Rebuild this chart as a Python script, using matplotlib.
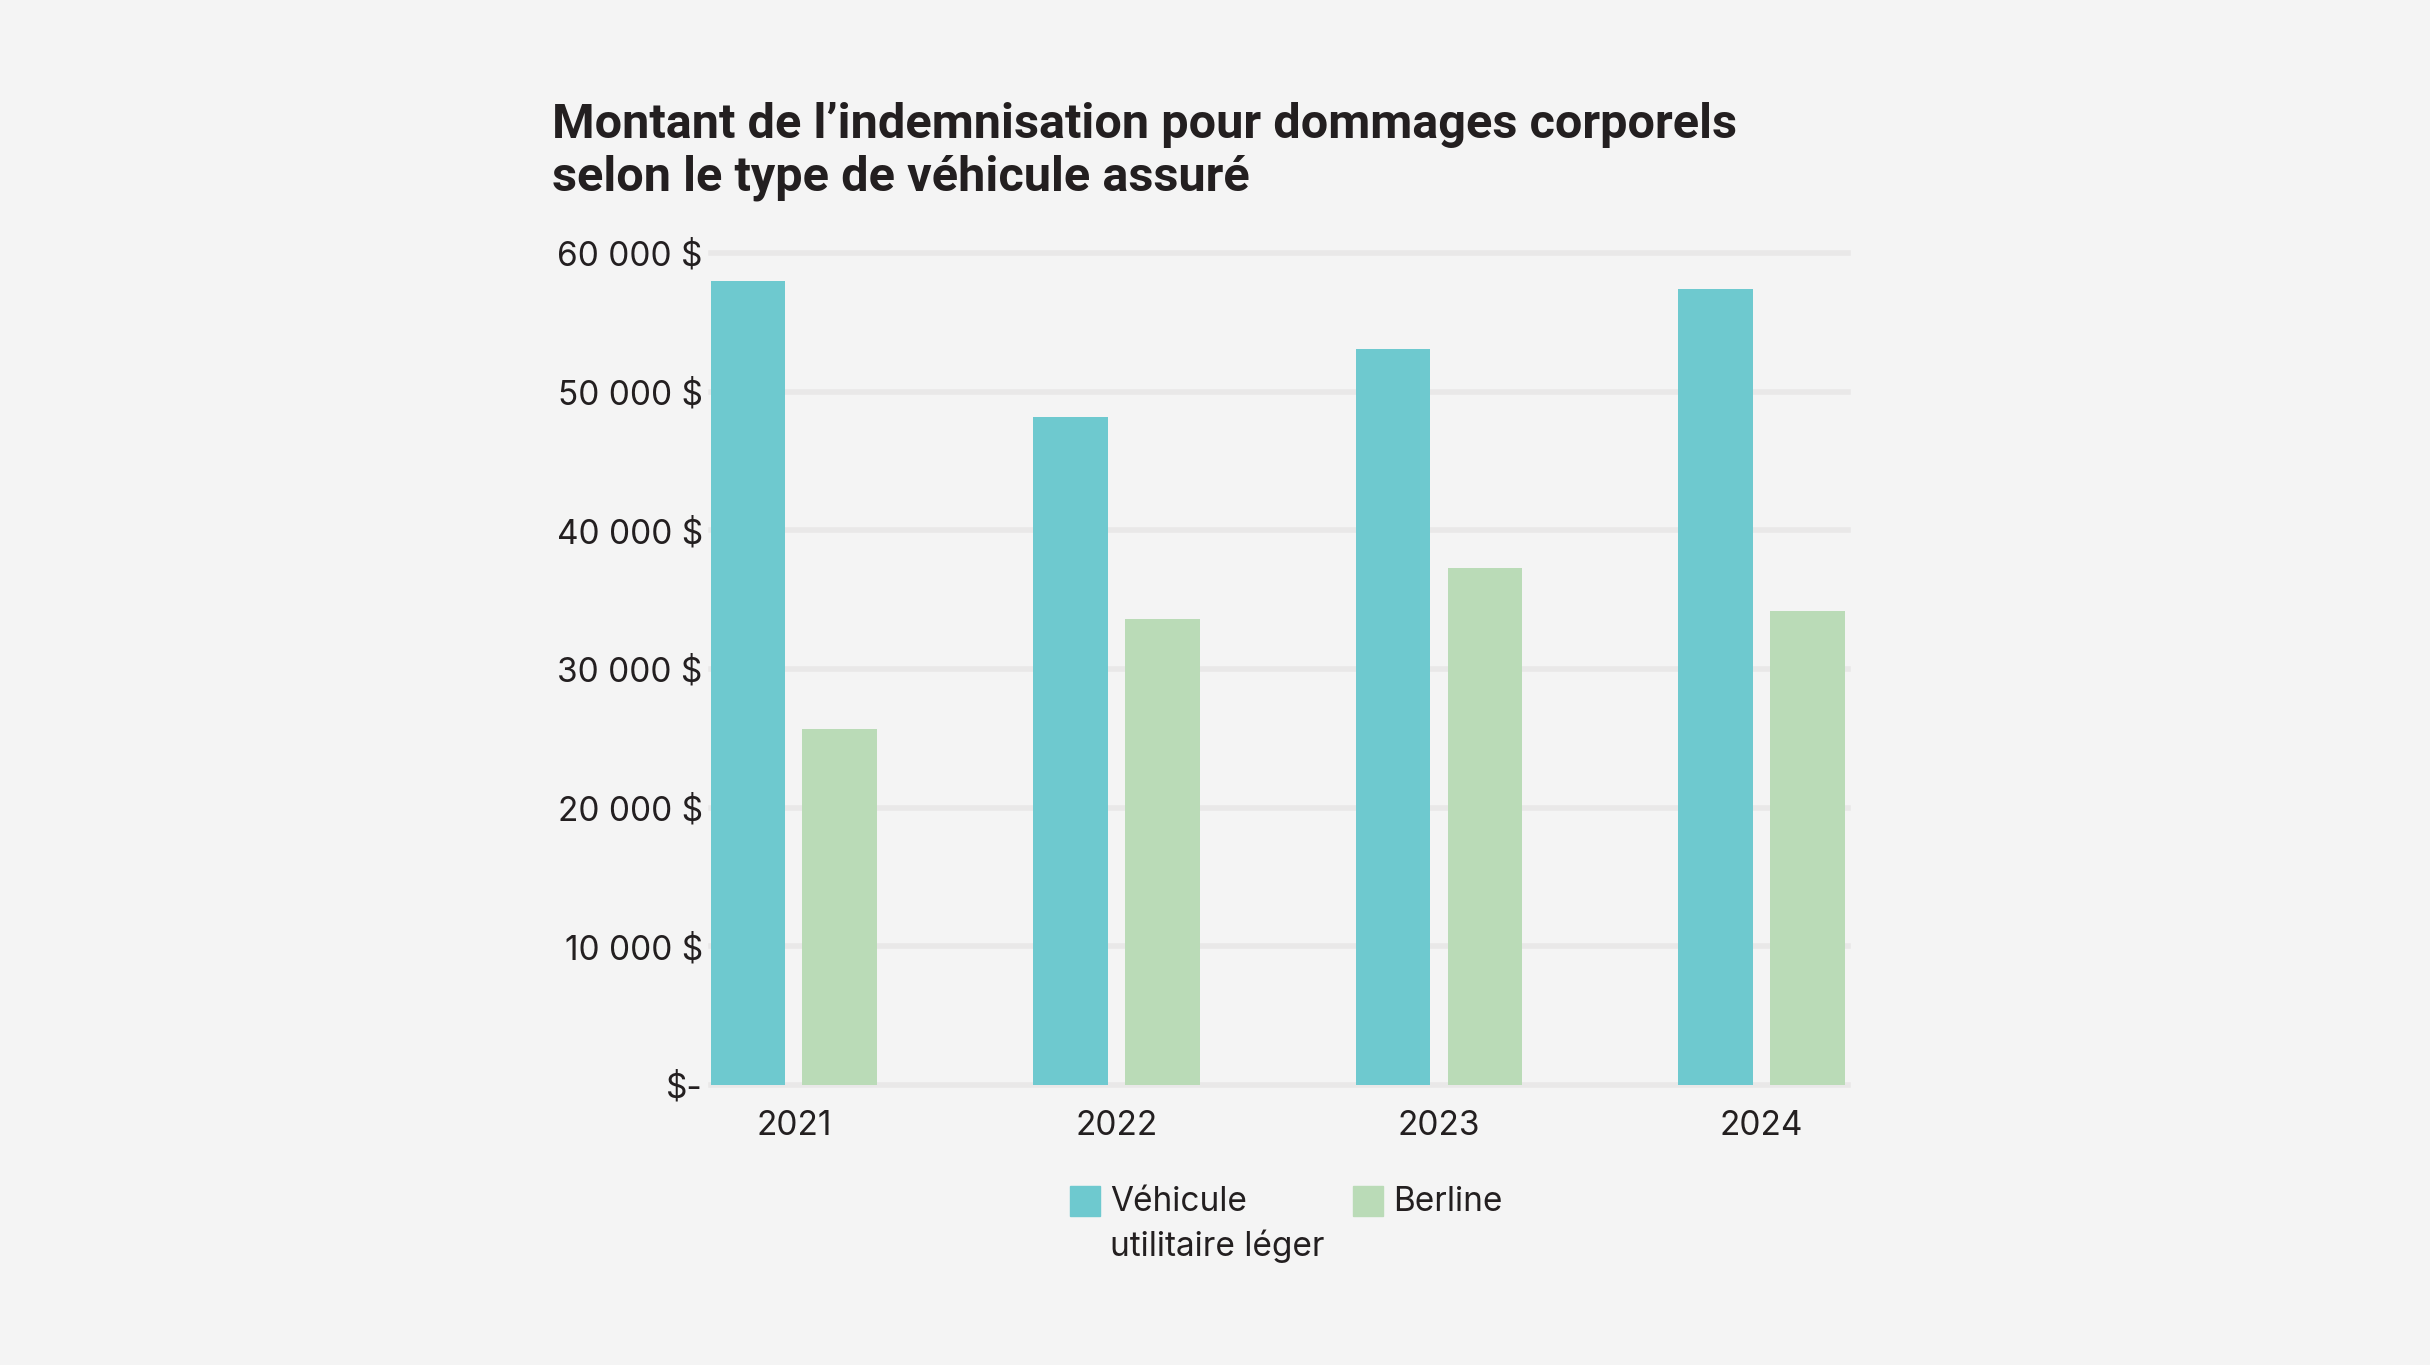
import matplotlib
matplotlib.use("Agg")
import matplotlib.pyplot as plt
from matplotlib.patches import Rectangle
import numpy as np

years = ["2021", "2022", "2023", "2024"]
vul = [58000, 48200, 53100, 57400]
berline = [25700, 33600, 37300, 34200]
yticks = [0, 10000, 20000, 30000, 40000, 50000, 60000]
ytick_labels = ["$-", "10 000 $", "20 000 $", "30 000 $", "40 000 $", "50 000 $", "60 000 $"]
series_labels = ["Véhicule\nutilitaire léger", "Berline"]
title = "Montant de l\u2019indemnisation pour dommages corporels\nselon le type de véhicule assuré"

BG = "#f4f4f4"
TEAL = "#6ec9cf"
GREEN = "#badbb7"
GRID = "#e9e8e8"
TXT = "#231f20"

W, H = 2430, 1365
fig = plt.figure(figsize=(W / 100, H / 100), dpi=100, facecolor=BG)
ax = fig.add_axes([711 / W, 1 - 1085 / H, (1848 - 711) / W, (1085 - 253) / H])
ax.set_facecolor(BG)

x = np.arange(len(years))
bw = 0.231
off = 0.142
ax.bar(x - off, vul, width=bw, color=TEAL, zorder=3, label=series_labels[0])
ax.bar(x + off, berline, width=bw, color=GREEN, zorder=3, label=series_labels[1])

ax.set_xlim(-0.257, 3.268)
ax.set_ylim(0, 60000)
for yv in yticks:
    ax.axhline(yv, color=GRID, lw=4.0, zorder=1, clip_on=False)

for s in ax.spines.values():
    s.set_visible(False)
ax.set_yticks(yticks)
ax.set_yticklabels(ytick_labels, fontsize=24, color=TXT, family="Inter")
ax.set_xticks(x)
ax.set_xticklabels(years, fontsize=24, color=TXT, family="Inter")
ax.tick_params(axis="y", length=0, pad=6)
ax.tick_params(axis="x", length=0, pad=18)

fig.text(552 / W, 1 - 102 / H, title, ha="left", va="top", fontsize=35,
         fontweight="bold", family="Roboto", color=TXT, linespacing=1.17)

# legend
sq = 30
for (lx, lab, col) in [(1070, series_labels[0], TEAL), (1353, series_labels[1], GREEN)]:
    fig.patches.append(Rectangle((lx / W, 1 - 1216 / H), sq / W, sq / H,
                                 transform=fig.transFigure, color=col))
    fig.text((lx + 40) / W, 1 - 1186 / H, lab, ha="left", va="top",
             fontsize=24, family="Inter", color=TXT, linespacing=1.45)

fig.savefig("out.png", dpi=100, facecolor=BG)
